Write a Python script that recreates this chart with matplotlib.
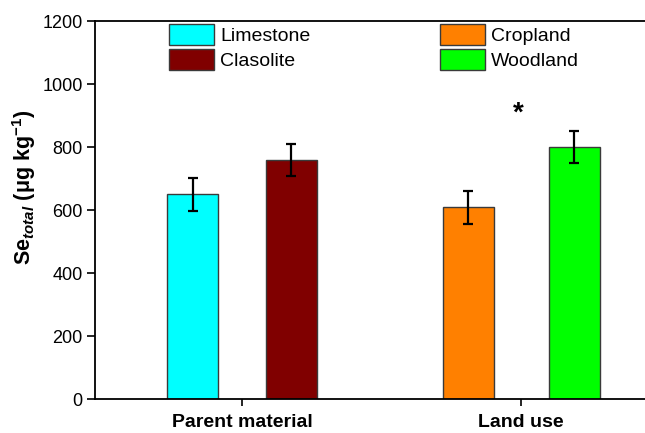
import numpy as np
import matplotlib.pyplot as plt
from matplotlib.patches import Patch

plt.rcParams['font.family'] = ['Liberation Sans', 'DejaVu Sans']
plt.rcParams['mathtext.fontset'] = 'custom'
plt.rcParams['mathtext.rm'] = 'Liberation Sans:bold'
plt.rcParams['mathtext.bf'] = 'Liberation Sans:bold'
plt.rcParams['mathtext.it'] = 'Liberation Sans:bold:italic'

groups = ['Parent material', 'Land use']
labels = ['Limestone', 'Clasolite', 'Cropland', 'Woodland']
means = [650, 759, 608, 800]
errs = [52, 50, 52, 52]
colors = ['#00FFFF', '#800000', '#FF8000', '#00FF00']
group_of = [0, 0, 1, 1]
side = [-1, 1, -1, 1]

fig = plt.figure(figsize=(6.45, 4.33), dpi=100)
ax = fig.add_axes([0.1473, 0.0785, 0.8527, 0.873])

group_x = np.array([1.0, 2.0])
off = np.array([0.177, 0.19])
width = 0.183
xs = group_x[group_of] + off[group_of] * np.array(side)

for x, m, e, c, lab in zip(xs, means, errs, colors, labels):
    ax.bar(x, m, width=width, color=c, edgecolor='#3a3a3a', linewidth=1.0, label=lab, zorder=2)
    ax.errorbar(x, m, yerr=e, fmt='none', ecolor='black', elinewidth=1.6,
                capsize=3.3, capthick=1.6, zorder=3)

# significance marker above the woodland bar
ax.text(group_x[1] - 0.01, 905, '*', ha='center', va='center', fontsize=20, fontweight='bold')

ax.set_xlim(0.473, 2.444)
ax.set_ylim(0, 1200)
ax.set_yticks(np.arange(0, 1201, 200))
ax.set_xticks(group_x)
ax.set_xticklabels(groups, fontsize=14, fontweight='bold')
ax.tick_params(axis='y', labelsize=13, direction='out', length=6, width=1.2, pad=3)
ax.tick_params(axis='x', direction='out', length=5, width=1.2, pad=6)
ax.spines['right'].set_visible(False)
for s in ['left', 'bottom', 'top']:
    ax.spines[s].set_linewidth(1.3)

ax.set_ylabel(r'Se$_{\mathit{total}}$ (μg kg$^{\mathregular{-1}}$)', fontsize=15.5, fontweight='bold')
ax.yaxis.set_label_coords(-0.103, 0.56)

handles = [Patch(facecolor=c, edgecolor='#3a3a3a', linewidth=1.0) for c in colors]
ax.legend(handles, labels, ncol=2, loc='upper left', bbox_to_anchor=(0.12, 1.012),
          frameon=False, fontsize=14, handlelength=2.3, handleheight=1.3,
          handletextpad=0.35, labelspacing=0.18, columnspacing=6.65, borderpad=0.2,
          borderaxespad=0.2)

fig.savefig('out.png', dpi=100)
